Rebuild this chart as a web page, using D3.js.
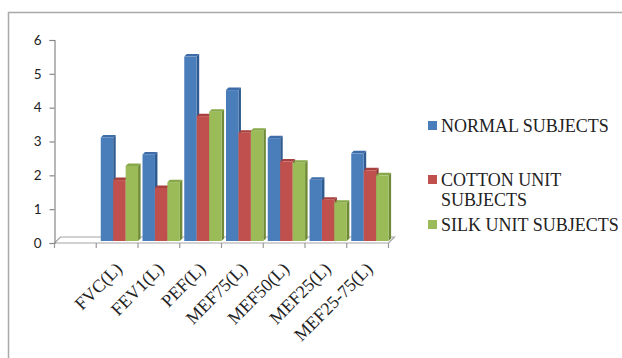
<!DOCTYPE html>
<html>
<head>
<meta charset="utf-8">
<script src="https://cdn.jsdelivr.net/npm/d3@7"></script>
<style>
  html, body { margin: 0; padding: 0; background: #fff; }
  svg { display: block; }
  .serif { font-family: "Liberation Serif", "Times New Roman", serif; }
</style>
</head>
<body>
<svg id="chart" width="622" height="358"></svg>
<script>
// Lung function parameters (first slot is left empty on the category axis)
const categories = ["", "FVC(L)", "FEV1(L)", "PEF(L)", "MEF75(L)", "MEF50(L)", "MEF25(L)", "MEF25-75(L)"];
const seriesNames = ["NORMAL SUBJECTS", "COTTON UNIT SUBJECTS", "SILK UNIT SUBJECTS"];
const normalValues = [null, 3.06, 2.56, 5.45, 4.46, 3.04, 1.81, 2.59];
const cottonValues = [null, 1.80, 1.57, 3.69, 3.20, 2.35, 1.22, 2.09];
const silkValues   = [null, 2.22, 1.74, 3.82, 3.26, 2.31, 1.13, 1.94];
const yTicks = [0, 1, 2, 3, 4, 5, 6];

const seriesValues = [normalValues, cottonValues, silkValues];
const palette = [
  { front: "#4a7ebb", side: "#2f5b90", top: "#3d6ca8" },
  { front: "#c0504d", side: "#8c3633", top: "#a8413e" },
  { front: "#9bbb59", side: "#6f8a36", top: "#87a849" }
];

const svg = d3.select("#chart");

// outer chart frame
svg.append("rect")
  .attr("x", 8.5).attr("y", 12.5)
  .attr("width", 640).attr("height", 380)
  .attr("fill", "#fff")
  .attr("stroke", "#a9a9a9").attr("stroke-width", 1.5);

const x0 = 54.5, x1 = 388.5, yBase = 243, yTop = 40;
const depth = { dx: 6, dy: -6 };      // floor depth
const barDepth = { dx: 2.5, dy: -2.5 }; // bar box depth

const x = d3.scaleBand().domain(categories).range([x0, x1]).paddingInner(0).paddingOuter(0);
const xs = d3.scaleBand().domain(d3.range(seriesNames.length))
  .range([0, x.bandwidth()]).paddingInner(0).paddingOuter(0.177);
const y = d3.scaleLinear().domain([0, 6]).range([yBase, yTop]);

// floor of the 3-D plot area
const floorPts = [
  [x0, yBase], [x1, yBase],
  [x1 + depth.dx, yBase + depth.dy], [x0 + depth.dx, yBase + depth.dy]
];
svg.append("polygon")
  .attr("points", floorPts.map(p => p.join(",")).join(" "))
  .attr("fill", "#fff")
  .attr("stroke", "#a6a6a6").attr("stroke-width", 1.2);

// value axis
const yAxis = d3.axisLeft(y).tickValues(yTicks).tickSize(5).tickPadding(8).tickFormat(d3.format("d"));
const gy = svg.append("g").attr("transform", `translate(${x0},0)`).call(yAxis);
gy.attr("font-family", null).attr("font-size", null);
gy.select(".domain").attr("stroke", "#888").attr("stroke-width", 1.2);
gy.selectAll(".tick line").attr("stroke", "#888").attr("stroke-width", 1.2);
gy.selectAll(".tick text")
  .style("font-family", "Lato, 'Open Sans', sans-serif")
  .style("font-size", "13.5px").attr("fill", "#222");

// category axis ticks (between categories)
const tickXs = categories.map(c => x(c)).concat([x1]);
svg.append("g").selectAll("line").data(tickXs).join("line")
  .attr("x1", d => d).attr("x2", d => d)
  .attr("y1", yBase).attr("y2", yBase + 5)
  .attr("stroke", "#999").attr("stroke-width", 1.2);

// 3-D bars: front face, side face and top face
const bars = [];
seriesValues.forEach((vals, s) => {
  vals.forEach((v, i) => {
    if (v == null) return;
    bars.push({ s, i, v });
  });
});

const gb = svg.append("g").attr("transform", "translate(2.3,-2)");
const bx = d => x(categories[d.i]) + xs(d.s);
const bw = xs.bandwidth();

const barG = gb.selectAll("g.bar").data(bars).join("g").attr("class", "bar");
barG.append("polygon") // right side
  .attr("points", d => {
    const l = bx(d) + bw, t = y(d.v), b = y(0);
    return [[l, t], [l + barDepth.dx, t + barDepth.dy], [l + barDepth.dx, b + barDepth.dy], [l, b]]
      .map(p => p.join(",")).join(" ");
  })
  .attr("fill", d => palette[d.s].side);
barG.append("polygon") // top
  .attr("points", d => {
    const l = bx(d), r = l + bw, t = y(d.v);
    return [[l, t], [r, t], [r + barDepth.dx, t + barDepth.dy], [l + barDepth.dx, t + barDepth.dy]]
      .map(p => p.join(",")).join(" ");
  })
  .attr("fill", d => palette[d.s].top);
barG.append("rect") // front
  .attr("x", d => bx(d)).attr("y", d => y(d.v))
  .attr("width", bw).attr("height", d => y(0) - y(d.v))
  .attr("fill", d => palette[d.s].front);

// rotated category labels
svg.append("g").selectAll("text").data(categories.filter(c => c !== "")).join("text")
  .attr("class", "serif")
  .attr("transform", d => `translate(${x(d) + x.bandwidth() / 2 + 6},${270}) rotate(-45)`)
  .attr("text-anchor", "end")
  .style("font-size", "18px")
  .attr("fill", "#222")
  .text(d => d);

// legend
const legendRows = [
  { s: 0, lines: ["NORMAL SUBJECTS"], y: 132 },
  { s: 1, lines: ["COTTON UNIT", "SUBJECTS"], y: 186 },
  { s: 2, lines: ["SILK UNIT SUBJECTS"], y: 231 }
];
const lg = svg.append("g");
legendRows.forEach(row => {
  lg.append("rect")
    .attr("x", 428).attr("y", row.y - 11)
    .attr("width", 9).attr("height", 9)
    .attr("fill", palette[row.s].front);
  const t = lg.append("text")
    .attr("class", "serif")
    .attr("x", 441).attr("y", row.y)
    .style("font-size", "18px")
    .attr("fill", "#222");
  row.lines.forEach((ln, k) => {
    t.append("tspan").attr("x", 441).attr("dy", k === 0 ? 0 : 20).text(ln);
  });
});
</script>
</body>
</html>
